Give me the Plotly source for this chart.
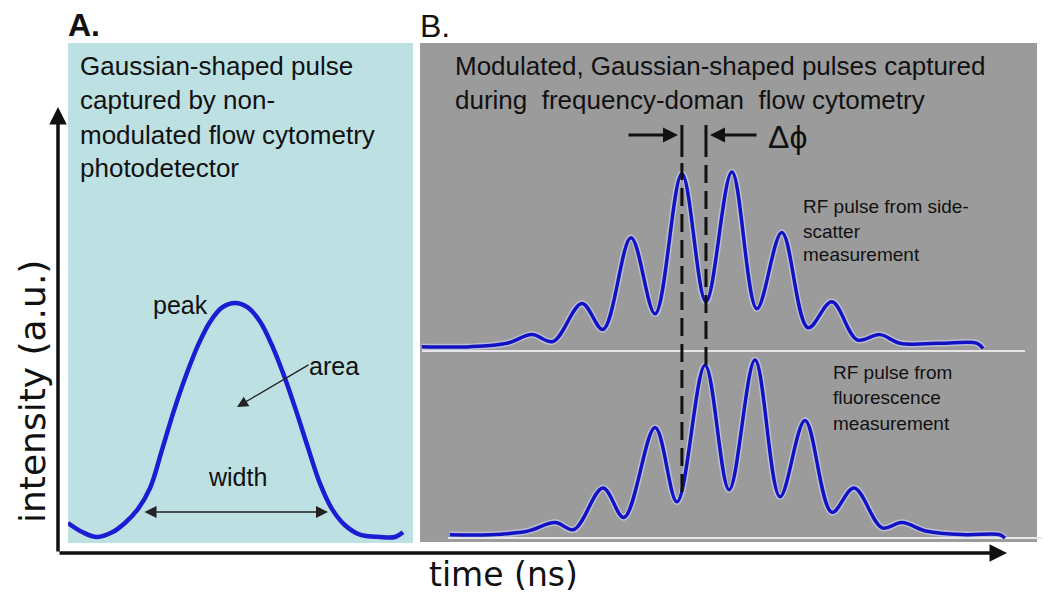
import plotly.graph_objects as go

# the page body has an 8px margin, so the figure is sized to sit at (8, 8)
OFF = 8
W, H = 1050 - 2 * OFF, 600 - 2 * OFF

# ---------------- data ----------------
# Panel A: Gaussian-shaped pulse, non-modulated detector
time_a_ns = [0.00, 0.43, 0.84, 1.28, 1.65, 2.03, 2.38, 2.72, 3.07, 3.42, 3.77, 4.12, 4.46, 4.84,
             5.22, 5.57, 5.91, 6.26, 6.61, 6.96, 7.30, 7.65, 8.03, 8.46, 9.04, 9.48, 9.71]
intensity_a = [0.06, 0.02, 0.00, 0.02, 0.06, 0.12, 0.21, 0.37, 0.54, 0.69, 0.82, 0.92, 0.98, 1.00,
               0.98, 0.92, 0.82, 0.69, 0.54, 0.38, 0.23, 0.12, 0.05, 0.01, 0.00, 0.00, 0.02]

# Panel B: RF pulse from side-scatter measurement
time_ss_ns = [0.06, 1.62, 2.82, 3.63, 4.31, 5.25, 5.93, 6.84, 7.62, 8.49, 9.27, 10.11,
              10.92, 11.73, 12.58, 13.35, 14.17, 14.91, 15.56, 16.86, 18.06, 18.25]
intensity_ss = [-0.01, -0.01, 0.01, 0.06, 0.02, 0.24, 0.09, 0.62, 0.18, 0.99, 0.25, 1.00,
                0.21, 0.65, 0.10, 0.25, 0.03, 0.06, 0.01, 0.01, 0.01, -0.02]

# Panel B: RF pulse from fluorescence measurement
time_fl_ns = [0.97, 2.27, 3.47, 4.38, 4.99, 5.93, 6.61, 7.62, 8.33, 9.24, 10.02, 10.86,
              11.67, 12.48, 13.35, 14.07, 14.98, 15.62, 16.43, 17.67, 18.80, 18.96]
intensity_fl = [-0.01, -0.01, 0.01, 0.06, 0.02, 0.26, 0.09, 0.61, 0.18, 0.97, 0.25, 1.00,
                0.21, 0.65, 0.12, 0.26, 0.03, 0.06, 0.01, -0.01, -0.01, -0.03]

# phase markers (ns): peak of side-scatter vs peak of fluorescence
phase_ns = [8.49, 9.27]

text_a_lines = ["Gaussian-shaped pulse", "captured by non-",
                "modulated flow cytometry", "photodetector"]
text_b_lines = ["Modulated, Gaussian-shaped pulses captured",
                "during\u00a0 frequency-doman\u00a0 flow cytometry"]
text_ss_lines = ["RF pulse from side-", "scatter", "measurement"]
text_fl_lines = ["RF pulse from", "fluorescence", "measurement"]


# ---------------- helpers (reference pixel -> paper) ----------------
def px(x):
    return (x - OFF) / W


def py(y):
    return 1 - (y - OFF) / H


FONT = "Liberation Sans, Arial, sans-serif"
BLUE_A = "#1c1cd2"
BLUE_B = "#1212c4"

fig = go.Figure()

# speckle-like halo under B curves
for tx, ty, yax in [(time_ss_ns, intensity_ss, "y2"), (time_fl_ns, intensity_fl, "y3")]:
    fig.add_trace(go.Scatter(x=tx, y=ty, xaxis="x2", yaxis=yax, mode="lines",
                             line=dict(color="rgba(215,220,255,0.55)", width=6.5,
                                       shape="spline", smoothing=1.0),
                             hoverinfo="skip", showlegend=False))

fig.add_trace(go.Scatter(x=time_a_ns, y=intensity_a, xaxis="x", yaxis="y", mode="lines",
                         line=dict(color=BLUE_A, width=4.5, shape="spline", smoothing=1.0),
                         showlegend=False))
fig.add_trace(go.Scatter(x=time_ss_ns, y=intensity_ss, xaxis="x2", yaxis="y2", mode="lines",
                         line=dict(color=BLUE_B, width=3.5, shape="spline", smoothing=1.0),
                         showlegend=False))
fig.add_trace(go.Scatter(x=time_fl_ns, y=intensity_fl, xaxis="x2", yaxis="y3", mode="lines",
                         line=dict(color=BLUE_B, width=3.5, shape="spline", smoothing=1.0),
                         showlegend=False))

shapes = [
    # panel backgrounds
    dict(type="rect", xref="paper", yref="paper", x0=px(68), x1=px(413), y0=py(543), y1=py(43),
         fillcolor="#bde0e3", line=dict(width=0), layer="below"),
    dict(type="rect", xref="paper", yref="paper", x0=px(420), x1=px(1037), y0=py(542), y1=py(43),
         fillcolor="#9b9b9b", line=dict(width=0), layer="below"),
    # white base lines in panel B
    dict(type="line", xref="paper", yref="paper", x0=px(422), x1=px(1025), y0=py(351), y1=py(351),
         line=dict(color="#e6e6e6", width=2), layer="below"),
    dict(type="line", xref="paper", yref="paper", x0=px(448), x1=1, y0=py(538), y1=py(538),
         line=dict(color="#e6e6e6", width=2), layer="below"),
    # phase marker bars
    dict(type="line", xref="x2", yref="paper", x0=phase_ns[0], x1=phase_ns[0], y0=py(157), y1=py(125),
         line=dict(color="#111111", width=3)),
    dict(type="line", xref="x2", yref="paper", x0=phase_ns[1], x1=phase_ns[1], y0=py(157), y1=py(125),
         line=dict(color="#111111", width=3)),
    # dashed phase lines
    dict(type="line", xref="x2", yref="paper", x0=phase_ns[0], x1=phase_ns[0], y0=py(492), y1=py(163),
         line=dict(color="#111111", width=3, dash="18px,8px")),
    dict(type="line", xref="x2", yref="paper", x0=phase_ns[1], x1=phase_ns[1], y0=py(365), y1=py(163),
         line=dict(color="#111111", width=3, dash="18px,8px")),
]

annotations = []


def txt(s, x, y, size, xanchor="left", family=FONT, **kw):
    annotations.append(dict(text=s, xref="paper", yref="paper", x=px(x), y=py(y),
                            xanchor=xanchor, yanchor="middle", showarrow=False,
                            font=dict(family=family, size=size, color="#111111"), **kw))


def arrow(tip_x, tip_y, tail_x, tail_y, width, size, color="#111111", side="end"):
    annotations.append(dict(text="", xref="paper", yref="paper", x=px(tip_x), y=py(tip_y),
                            ax=tail_x - tip_x, ay=tail_y - tip_y, axref="pixel", ayref="pixel",
                            showarrow=True, arrowhead=2, arrowsize=size, arrowwidth=width,
                            arrowcolor=color, arrowside=side, standoff=0, startstandoff=0))


# panel labels
txt("<b>A.</b>", 66, 25, 32, height=30, valign="middle")
txt("B.", 418, 26, 32, height=30, valign="middle")

for i, s in enumerate(text_a_lines):
    txt(s, 78, [66, 100, 135, 168][i], 26)
for i, s in enumerate(text_b_lines):
    txt(s, 453, [66, 100][i], 26)

txt("peak", 180, 305, 25, xanchor="center")
txt("area", 334, 366, 25, xanchor="center")
txt("width", 237, 477, 25, xanchor="center")

for i, s in enumerate(text_ss_lines):
    txt(s, 801, [207, 231, 255][i], 19)
for i, s in enumerate(text_fl_lines):
    txt(s, 831, [372, 397, 423][i], 19)

txt("\u0394\u03d5", 766, 137, 32)

# axis titles
txt("time (ns)", 503, 574, 33, xanchor="center", family="DejaVu Sans, sans-serif",
    height=34, valign="middle")
annotations.append(dict(text="intensity (a.u.)", xref="paper", yref="paper", x=px(32), y=py(392),
                        xanchor="center", yanchor="middle", showarrow=False, textangle=-90,
                        font=dict(family="DejaVu Sans, sans-serif", size=36, color="#111111")))

# arrows
arrow(1007, 553, 58, 553, 3.5, 1.0)          # time axis
arrow(58, 107, 58, 553, 3.5, 1.0)            # intensity axis
arrow(678, 135, 627, 135, 3, 1.0)            # delta phi left
arrow(710, 135, 758, 135, 3, 1.0)            # delta phi right
arrow(328, 512, 143, 512, 1.5, 1.6, color="#222222", side="end+start")   # width
arrow(237, 407, 310, 364, 1.3, 1.7, color="#222222")                     # area

ax_common = dict(visible=False, fixedrange=True, showgrid=False, zeroline=False)
fig.update_layout(
    width=W, height=H,
    margin=dict(l=0, r=0, t=0, b=0),
    paper_bgcolor="white", plot_bgcolor="rgba(0,0,0,0)",
    xaxis=dict(domain=[px(68), px(413)], range=[0, 10], anchor="y", **ax_common),
    yaxis=dict(domain=[py(543), py(43)], range=[-6 / 234, 494 / 234], anchor="x", **ax_common),
    xaxis2=dict(domain=[px(420), px(1037)], range=[0, 20], anchor="y2", **ax_common),
    yaxis2=dict(domain=[py(351), py(43)], range=[-6 / 173, 302 / 173], anchor="x2", **ax_common),
    yaxis3=dict(domain=[py(542), py(351)], range=[-9 / 173, 182 / 173], anchor="x2", **ax_common),
    shapes=shapes,
    annotations=annotations,
    showlegend=False,
)

fig.write_html("out.html")
